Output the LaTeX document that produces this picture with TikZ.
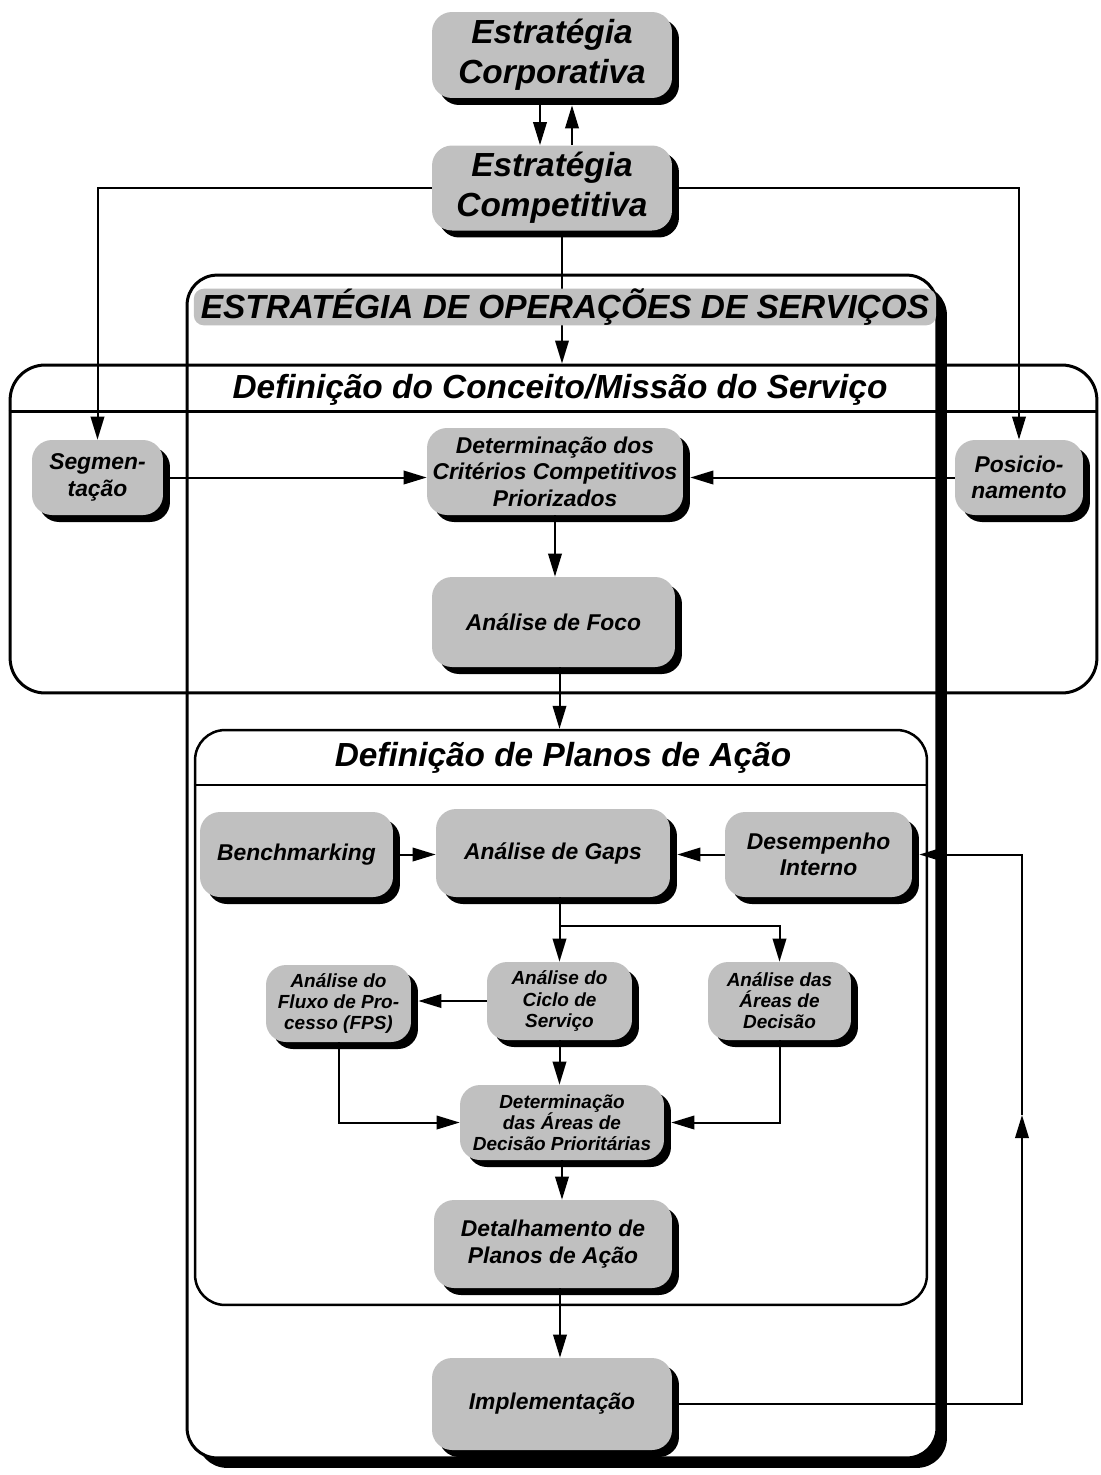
\documentclass[tikz,border=0pt]{standalone}
\usepackage{fontspec}
\setmainfont{Liberation Sans}
\usepackage{xcolor}
\usetikzlibrary{arrows.meta, positioning, calc, shadows}
\definecolor{cinza}{RGB}{192,192,192}

\begin{document}
\begin{tikzpicture}[x=0.02cm, y=-0.02cm,
  caixa/.style={fill=cinza, rounded corners=0.4cm, align=center, inner sep=1pt,
    drop shadow={shadow xshift=0.14cm, shadow yshift=-0.14cm, opacity=1, fill=black}},
  grande/.style={font=\bfseries\itshape\fontsize{19}{23}\selectfont},
  media/.style={font=\bfseries\itshape\fontsize{13}{15}\selectfont},
  pequena/.style={font=\bfseries\itshape\fontsize{10.8}{12}\selectfont},
  seta/.style={line width=0.04cm, -{Triangle[length=0.46cm, width=0.27cm]}},
  moldura/.style={draw, line width=0.06cm, rounded corners=0.6cm}]
  \useasboundingbox (0,0) rectangle (1101,1475);
  % Estratégias da empresa
  \node[caixa, grande, minimum width=4.8cm, minimum height=1.72cm] (corp) at (552,55) {Estratégia\\Corporativa};
  \node[caixa, grande, minimum width=4.8cm, minimum height=1.7cm] (comp) at (552,188) {Estratégia\\Competitiva};
  % Moldura externa: estratégia de operações
  \node[moldura, fill=white, minimum width=15cm, minimum height=23.66cm,
        drop shadow={shadow xshift=0.2cm, shadow yshift=-0.2cm, opacity=1, fill=black}] (estrategia) at (562,866.5) {};
  % Conceito / missão
  \node[moldura, rounded corners=0.7cm, minimum width=21.74cm, minimum height=6.56cm] (conceito) at (553.5,529) {};
  \draw[line width=0.06cm] ([yshift=-0.96cm]conceito.north west) -- ([yshift=-0.96cm]conceito.north east);
  \node[grande] (conceitotit) at (560,390) {Definição do Conceito/Missão do Serviço};
  \node[caixa, media, minimum width=2.62cm, minimum height=1.5cm] (seg) at (97.5,477.5) {Segmen-\\tação};
  \node[caixa, media, minimum width=2.56cm, minimum height=1.5cm] (pos) at (1019,477.5) {Posicio-\\namento};
  \node[caixa, media, minimum width=5.12cm, minimum height=1.74cm] (crit) at (555,471.5) {Determinação dos\\Critérios Competitivos\\Priorizados};
  \node[caixa, media, minimum width=4.86cm, minimum height=1.8cm] (foco) at (553.5,622) {Análise de Foco};
  % Planos de ação
  \node[moldura, line width=0.05cm, minimum width=14.64cm, minimum height=11.5cm] (planos) at (561,1017.5) {};
  \draw[line width=0.05cm] ([yshift=-1.12cm]planos.north west) -- ([yshift=-1.12cm]planos.north east);
  \node[grande] (planostit) at (563,758) {Definição de Planos de Ação};
  \node[caixa, media, minimum width=3.86cm, minimum height=1.7cm] (bench) at (296.5,854.5) {Benchmarking};
  \node[caixa, media, minimum width=4.68cm, minimum height=1.76cm] (gaps) at (553,853) {Análise de Gaps};
  \node[caixa, media, minimum width=3.74cm, minimum height=1.7cm] (desemp) at (818.5,854.5) {Desempenho\\Interno};
  \node[caixa, pequena, minimum width=2.9cm, minimum height=1.54cm] (fps) at (338.5,1003.5) {Análise do\\Fluxo de Pro-\\cesso (FPS)};
  \node[caixa, pequena, minimum width=2.9cm, minimum height=1.56cm] (ciclo) at (559.5,1001) {Análise do\\Ciclo de\\Serviço};
  \node[caixa, pequena, minimum width=2.86cm, minimum height=1.56cm] (areas) at (779.5,1001) {Análise das\\Áreas de\\Decisão};
  \node[caixa, pequena, minimum width=4.08cm, minimum height=1.5cm] (detareas) at (562,1122.5) {Determinação\\das Áreas de\\Decisão Prioritárias};
  \node[caixa, media, minimum width=4.76cm, minimum height=1.76cm] (detalh) at (553,1244) {Detalhamento de\\Planos de Ação};
  \node[caixa, media, minimum width=4.8cm, minimum height=1.84cm] (impl) at (552,1404) {Implementação};
  \coordinate (retorno) at (1022,1115);
  % Conexões
  \draw[seta] ([xshift=-0.24cm]corp.south) -- ([xshift=-0.24cm]comp.north);
  \draw[seta] ([xshift=0.4cm]comp.north) -- ([xshift=0.4cm, yshift=-0.14cm]corp.south);
  \draw[seta] ([xshift=0.2cm]comp.south) -- ([xshift=0.2cm]comp.south |- conceito.north);
  \draw[seta] (comp.west) -| (seg.north);
  \draw[seta] (comp.east) -| (pos.north);
  \draw[seta] (seg.east) -- (seg.east -| crit.west);
  \draw[seta] (pos.west) -- ($(pos.west -| crit.east)+(7,0)$);
  \draw[seta] (crit.south) -- (crit.south |- foco.north);
  \draw[seta] ([xshift=0.12cm]foco.south) -- ([xshift=0.12cm]foco.south |- planos.north);
  \draw[seta] (bench.east) -- (bench.east -| gaps.west);
  \draw[seta] (desemp.west) -- ($(desemp.west -| gaps.east)+(7,0)$);
  \draw[seta] (gaps.south -| ciclo.north) -- (ciclo.north);
  \draw[seta] ($(gaps.south -| ciclo.north)+(0,29)$) -| (areas.north);
  \draw[seta] (ciclo.west) -- ($(ciclo.west -| fps.east)+(7,0)$);
  \draw[seta] (ciclo.south) -- (ciclo.south |- detareas.north);
  \draw[seta] (fps.south) |- (detareas.west);
  \draw[seta] (areas.south) |- ($(detareas.east)+(7,0)$);
  \draw[seta] (detareas.south) -- (detareas.south |- detalh.north);
  \draw[seta] ([xshift=0.14cm]detalh.south) -- ([xshift=0.14cm]detalh.south |- impl.north);
  \draw[seta] (impl.east) -| (retorno);
  \draw[seta] (retorno) |- ($(desemp.east)+(7,0)$);
  % Faixa do título por cima da seta
  \node[fill=cinza, rounded corners=0.2cm, grande, minimum width=14.85cm, minimum height=0.72cm, inner sep=0pt] (titulo) at (565,307) {ESTRATÉGIA DE OPERAÇÕES DE SERVIÇOS};
\end{tikzpicture}
\end{document}
